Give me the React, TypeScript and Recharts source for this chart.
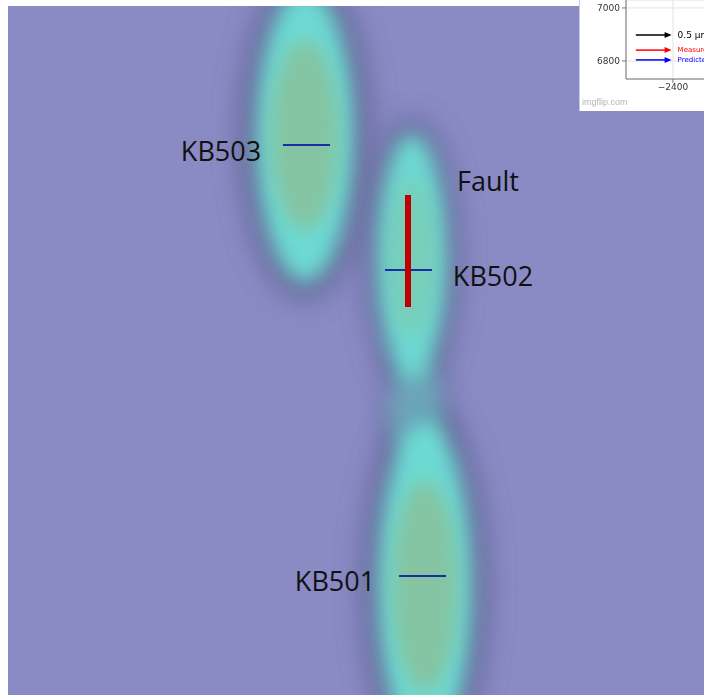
import {
  ComposedChart,
  Scatter,
  XAxis,
  YAxis,
  ReferenceLine,
  CartesianGrid,
} from "recharts";

// section coordinates in metres (5 px per metre on screen)
const SECTION_W = 139.2;
const SECTION_H = 137.8;
const PX_PER_M = 5;

// conductive anomalies picked from the inversion
const ANOMALY_NAMES = ["KB503", "KB502", "link", "KB501"];
const ANOMALY_X = [59.4, 80.8, 81.6, 83.4];
const ANOMALY_Y = [25.8, 50.2, 81.0, 116.0];
const ANOMALY_HALF_W = [9.8, 7.0, 5.4, 9.4];
const ANOMALY_HALF_H = [29.5, 24.8, 11.0, 33.0];
const ANOMALY_CORE = [1, 0.5, 0, 1];
const ANOMALY_GLOW = [1, 1, 0.5, 1];

// borehole intersections (blue ticks)
const HOLE_NAMES = ["KB503", "KB502", "KB501"];
const HOLE_FROM = [55.0, 75.4, 78.2];
const HOLE_TO = [64.4, 84.8, 87.6];
const HOLE_DEPTH = [27.8, 52.8, 114.0];

// mapped fault trace
const FAULT_X = 80.0;
const FAULT_TOP = 37.8;
const FAULT_BOTTOM = 60.2;

// annotations
const NOTE_TEXT = ["KB503", "Fault", "KB502", "KB501"];
const NOTE_X = [42.6, 96.0, 97.0, 65.4];
const NOTE_Y = [28.8, 34.8, 53.8, 114.8];

// quiver key of the displacement plot
const KEY_TEXT = ["0.5 μm", "Measured", "Predicted"];
const KEY_COLOR = ["#000000", "#ff0000", "#0000ff"];
const KEY_NORTH = [6898, 6841, 6804];
const KEY_FROM = -2540;
const KEY_TO = -2405;
const EAST_TICKS = [-2400, -2200];
const NORTH_TICKS = [6800, 7000];

const anomalies = ANOMALY_NAMES.map((name, i) => ({
  name,
  x: ANOMALY_X[i],
  y: ANOMALY_Y[i],
  hw: ANOMALY_HALF_W[i],
  hh: ANOMALY_HALF_H[i],
  core: ANOMALY_CORE[i],
  glow: ANOMALY_GLOW[i],
}));

const holes = HOLE_NAMES.map((name, i) => ({
  name,
  points: [
    { x: HOLE_FROM[i], y: HOLE_DEPTH[i] },
    { x: HOLE_TO[i], y: HOLE_DEPTH[i] },
  ],
}));

const fault = [
  { x: FAULT_X, y: FAULT_TOP },
  { x: FAULT_X, y: FAULT_BOTTOM },
];

const notes = NOTE_TEXT.map((text, i) => ({ text, x: NOTE_X[i], y: NOTE_Y[i] }));

const BG = "#8a8bc5";

function blurFilter(id: string, sd: number) {
  return (
    <defs>
      <filter id={id} x="-100%" y="-100%" width="300%" height="300%">
        <feGaussianBlur stdDeviation={sd} />
      </filter>
    </defs>
  );
}

function layerShape(layer: "halo" | "glow" | "core") {
  return (props: any) => {
    const { cx, cy, payload } = props;
    const rx = payload.hw * PX_PER_M;
    const ry = payload.hh * PX_PER_M;
    const id = `f-${layer}-${payload.name}`;
    if (layer === "halo") {
      return (
        <g>
          {blurFilter(id, 14)}
          <ellipse cx={cx} cy={cy} rx={rx * 1.35} ry={ry * 1.12} fill="#5a5a88" opacity={0.75 * payload.glow} filter={`url(#${id})`} />
        </g>
      );
    }
    if (layer === "glow") {
      return (
        <g>
          {blurFilter(id, 10)}
          <ellipse cx={cx} cy={cy} rx={rx} ry={ry} fill="#6de0d5" opacity={0.95 * payload.glow} filter={`url(#${id})`} />
        </g>
      );
    }
    if (!payload.core) return <g />;
    return (
      <g>
        {blurFilter(id, 9)}
        <ellipse cx={cx} cy={cy} rx={rx * 0.7} ry={ry * 0.64} fill="#84c4a2" opacity={payload.core} filter={`url(#${id})`} />
      </g>
    );
  };
}

const NoPoint = () => <g />;

const NoteShape = (props: any) => (
  <text
    x={props.cx}
    y={props.cy}
    textAnchor="middle"
    dominantBaseline="central"
    fontFamily="'Open Sans', sans-serif"
    fontSize={27}
    fill="#111"
  >
    {props.payload.text}
  </text>
);

function arrowShape(i: number) {
  return (p: any) => {
    const { x1, y1, x2, y2 } = p;
    const c = KEY_COLOR[i];
    return (
      <g>
        <line x1={x1} y1={y1} x2={x2 - 5} y2={y2} stroke={c} strokeWidth={1.5} />
        <polygon points={`${x2},${y2} ${x2 - 7},${y2 - 3} ${x2 - 7},${y2 + 3}`} fill={c} />
        <text
          x={x2 + 6}
          y={y2}
          dominantBaseline="central"
          fontFamily="'DejaVu Sans', sans-serif"
          fontSize={i === 0 ? 9 : 7}
          fill={c}
        >
          {KEY_TEXT[i]}
        </text>
      </g>
    );
  };
}

const minus = (v: number) => String(v).replace("-", "\u2212");

function KeyInset() {
  return (
    <div
      style={{
        position: "absolute",
        left: 571,
        top: -6,
        width: 124,
        height: 111,
        background: "#fff",
        borderLeft: "1px solid #c9c9df",
        overflow: "hidden",
      }}
    >
      <ComposedChart width={260} height={111} margin={{ top: 0, right: 0, bottom: 0, left: 0 }}>
        <CartesianGrid stroke="#e3e3e3" />
        <XAxis
          type="number"
          dataKey="x"
          domain={[-2577, -1770]}
          ticks={EAST_TICKS}
          height={32}
          tickSize={4}
          tickMargin={1}
          tickFormatter={minus}
          stroke="#777"
          tick={{ fontSize: 9, fill: "#333", fontFamily: "'DejaVu Sans', sans-serif" }}
          allowDataOverflow
        />
        <YAxis
          type="number"
          dataKey="y"
          domain={[6732, 7030]}
          ticks={NORTH_TICKS}
          width={46}
          tickSize={4}
          tickMargin={2}
          stroke="#777"
          tick={{ fontSize: 9, fill: "#333", fontFamily: "'DejaVu Sans', sans-serif" }}
          allowDataOverflow
        />
        <Scatter data={[]} isAnimationActive={false} />
        {KEY_TEXT.map((t, i) => (
          <ReferenceLine
            key={t}
            segment={[
              { x: KEY_FROM, y: KEY_NORTH[i] },
              { x: KEY_TO, y: KEY_NORTH[i] },
            ]}
            shape={arrowShape(i)}
          />
        ))}
      </ComposedChart>
      <div
        style={{
          position: "absolute",
          left: 2,
          top: 97,
          fontFamily: "'Liberation Sans', sans-serif",
          fontSize: 9,
          color: "#b5b5b5",
        }}
      >
        imgflip.com
      </div>
    </div>
  );
}

export default function App() {
  return (
    <div style={{ position: "fixed", left: 8, top: 6, width: 696, height: 689, background: BG }}>
      <ComposedChart width={696} height={689} margin={{ top: 0, right: 0, bottom: 0, left: 0 }}>
        <XAxis type="number" dataKey="x" domain={[0, SECTION_W]} hide />
        <YAxis type="number" dataKey="y" domain={[0, SECTION_H]} reversed hide />
        <Scatter data={anomalies} shape={layerShape("halo")} isAnimationActive={false} />
        <Scatter data={anomalies} shape={layerShape("glow")} isAnimationActive={false} />
        <Scatter data={anomalies} shape={layerShape("core")} isAnimationActive={false} />
        {holes.map((h) => (
          <Scatter
            key={h.name}
            data={h.points}
            line={{ stroke: "#1c2ba6", strokeWidth: 2 }}
            shape={NoPoint}
            isAnimationActive={false}
          />
        ))}
        <Scatter
          data={fault}
          line={{ stroke: "#c00000", strokeWidth: 6 }}
          shape={NoPoint}
          isAnimationActive={false}
        />
        <Scatter data={notes} shape={NoteShape} isAnimationActive={false} />
      </ComposedChart>
      <KeyInset />
    </div>
  );
}
